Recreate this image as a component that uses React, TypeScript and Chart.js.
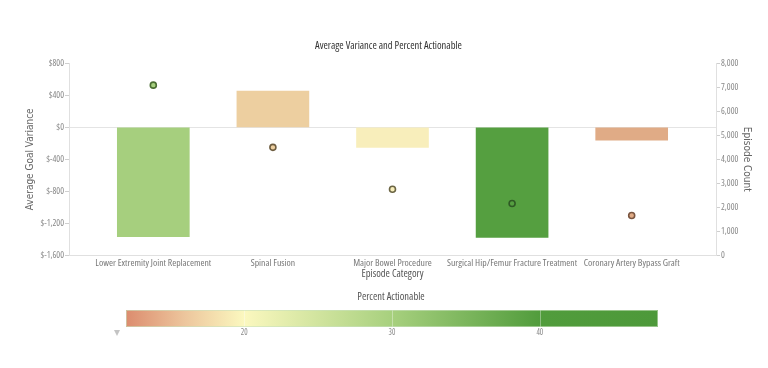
import React, { useEffect, useRef } from 'react';
import { Chart, registerables } from 'chart.js';

Chart.register(...registerables);

const categories = [
  'Lower Extremity Joint Replacement',
  'Spinal Fusion',
  'Major Bowel Procedure',
  'Surgical Hip/Femur Fracture Treatment',
  'Coronary Artery Bypass Graft',
];
const avgGoalVariance = [-1370, 455, -250, -1380, -160];
const episodeCount = [7100, 4500, 2750, 2150, 1650];
const barColors = ['#a6cf7e', '#edcfa0', '#f8eebb', '#559f40', '#e0ab86'];
const pointBorderColors = ['#4b6e33', '#6e5d40', '#6b6544', '#2f5a25', '#7a5540'];

const varianceMin = -1600;
const varianceMax = 800;
const varianceStep = 400;
const countMin = 0;
const countMax = 8000;
const countStep = 1000;

const legendTitle = 'Percent Actionable';
const legendMin = 12;
const legendMax = 48;
const legendTicks = [20, 30, 40];
const legendStopValues = [12, 16, 20, 30, 40, 48];
const legendStopColors = ['#dc8c6e', '#edc69d', '#fbf8bf', '#a7d07e', '#519c3c', '#4d993a'];

const FONT = '"Open Sans", Arial, sans-serif';
const AXIS_TITLE_FONT = '"DejaVu Sans Condensed", Arial, sans-serif';
const COND = 'condensed';

const fmtMoney = (v: number) => {
  const s = Math.abs(v).toLocaleString('en-US');
  return v < 0 ? `$-${s}` : `$${s}`;
};

const colorbarPlugin = {
  id: 'colorbar',
  afterDraw(chart: any) {
    const ctx = chart.ctx as CanvasRenderingContext2D;
    const left = 126;
    const right = 658;
    const top = 310;
    const h = 17;
    const xv = (v: number) => left + ((v - legendMin) / (legendMax - legendMin)) * (right - left);
    ctx.save();
    ctx.fillStyle = '#555';
    ctx.font = `${COND} 10.5px ${FONT}`;
    ctx.textAlign = 'center';
    ctx.textBaseline = 'middle';
    ctx.fillText(legendTitle, 391, 297);

    const g = ctx.createLinearGradient(left, 0, right, 0);
    legendStopValues.forEach((v, i) => {
      g.addColorStop((v - legendMin) / (legendMax - legendMin), legendStopColors[i]);
    });
    ctx.fillStyle = g;
    ctx.fillRect(left, top, right - left, h);
    ctx.strokeStyle = 'rgba(255,255,255,0.35)';
    ctx.lineWidth = 1;
    legendTicks.forEach((t) => {
      const x = Math.round(xv(t)) + 0.5;
      ctx.beginPath();
      ctx.moveTo(x, top);
      ctx.lineTo(x, top + h);
      ctx.stroke();
    });
    ctx.strokeStyle = 'rgba(200,225,190,0.6)';
    ctx.strokeRect(left + 0.5, top + 0.5, right - left - 1, h - 1);

    ctx.fillStyle = '#888';
    ctx.font = `${COND} 8px ${FONT}`;
    legendTicks.forEach((t) => {
      ctx.fillText(String(t), xv(t), 333);
    });
    ctx.fillStyle = '#c4c4c4';
    ctx.beginPath();
    ctx.moveTo(114, 330);
    ctx.lineTo(120, 330);
    ctx.lineTo(117, 336);
    ctx.closePath();
    ctx.fill();
    ctx.restore();
  },
};

export default function App() {
  const ref = useRef<HTMLCanvasElement | null>(null);

  useEffect(() => {
    if (!ref.current) return;
    const chart = new Chart(ref.current, {
      type: 'bar',
      data: {
        datasets: [
          {
            type: 'line',
            label: 'Episode Count',
            data: episodeCount.map((y, i) => ({ x: i, y })),
            yAxisID: 'y1',
            showLine: false,
            pointRadius: 3,
            pointBorderWidth: 1.6,
            pointBackgroundColor: barColors,
            pointBorderColor: pointBorderColors,
            order: 0,
          } as any,
          {
            type: 'bar',
            label: 'Average Goal Variance',
            data: avgGoalVariance.map((y, i) => ({ x: i, y })),
            yAxisID: 'y',
            backgroundColor: barColors,
            borderWidth: 0,
            barThickness: 72,
            order: 1,
          } as any,
        ],
      },
      options: {
        responsive: false,
        animation: false,
        layout: { padding: { left: 24, right: 15, top: 0, bottom: 88 } },
        plugins: {
          legend: { display: false },
          tooltip: { enabled: false },
          title: {
            display: true,
            text: 'Average Variance and Percent Actionable',
            color: '#333',
            font: { family: FONT, size: 10.5, weight: COND },
            padding: { top: 40, bottom: 11 },
          },
        },
        scales: {
          x: {
            type: 'linear',
            offset: false,
            min: -0.705,
            max: 4.705,
            afterBuildTicks: (scale: any) => {
              scale.ticks = categories.map((_, i) => ({ value: i }));
            },
            afterFit: (scale: any) => {
              scale.height = 25;
            },
            ticks: {
              autoSkip: false,
              maxRotation: 0,
              minRotation: 0,
              padding: 2,
              color: '#777',
              font: { family: FONT, size: 9.7, weight: COND },
              callback: (v: any) => categories[Number(v)] ?? '',
            },
            grid: { display: false, drawTicks: false, offset: false },
            border: { color: '#e0e0e0' },
            title: {
              display: true,
              text: 'Episode Category',
              color: '#555',
              padding: 0,
              font: { family: FONT, size: 10.5, weight: COND },
            },
          },
          y: {
            type: 'linear',
            position: 'left',
            min: varianceMin,
            max: varianceMax,
            afterFit: (scale: any) => {
              scale.width = 45;
            },
            ticks: {
              stepSize: varianceStep,
              color: '#888',
              padding: 1,
              font: { family: FONT, size: 9, weight: COND },
              callback: (v: any) => fmtMoney(Number(v)),
            },
            grid: {
              color: (c: any) => (c.tick && c.tick.value === 0 ? '#e4e4e4' : 'rgba(0,0,0,0)'),
              tickColor: '#cfcfcf',
              tickLength: 4,
            },
            border: { color: '#e0e0e0' },
            title: {
              display: true,
              text: 'Average Goal Variance',
              color: '#666',
              padding: 0,
              font: { family: AXIS_TITLE_FONT, size: 10 },
            },
          },
          y1: {
            type: 'linear',
            position: 'right',
            min: countMin,
            max: countMax,
            afterFit: (scale: any) => {
              scale.width = 37;
            },
            ticks: {
              stepSize: countStep,
              color: '#888',
              padding: 1,
              font: { family: FONT, size: 9, weight: COND },
              callback: (v: any) => Number(v).toLocaleString('en-US'),
            },
            grid: {
              drawOnChartArea: false,
              tickColor: '#cfcfcf',
              tickLength: 4,
            },
            border: { color: '#e0e0e0' },
            title: {
              display: true,
              text: 'Episode Count',
              color: '#666',
              padding: 0,
              font: { family: AXIS_TITLE_FONT, size: 10 },
            },
          },
        },
      } as any,
      plugins: [colorbarPlugin],
    });
    return () => chart.destroy();
  }, []);

  return (
    <div style={{ position: 'fixed', left: 0, top: 0, width: 768, height: 368, background: '#fff' }}>
      <canvas ref={ref} width={768} height={368} style={{ display: 'block', width: 768, height: 368 }} />
    </div>
  );
}
